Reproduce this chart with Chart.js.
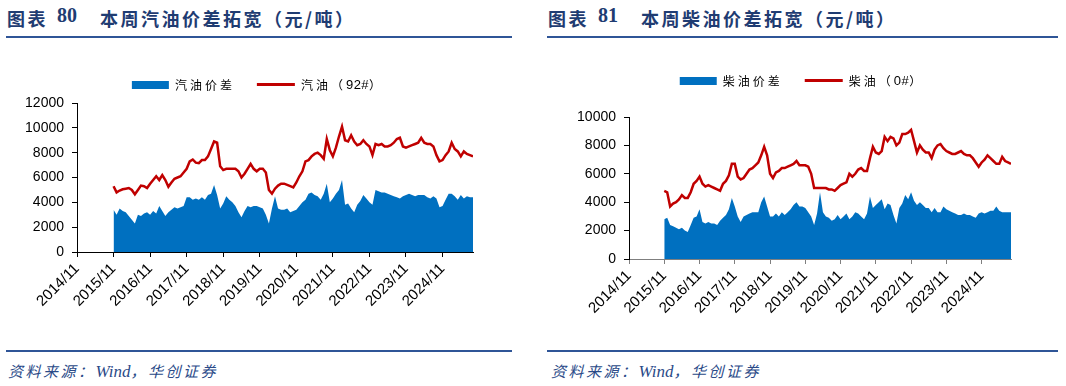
<!DOCTYPE html>
<html>
<head>
<meta charset="utf-8">
<script src="https://cdn.jsdelivr.net/npm/chart.js@4.4.1/dist/chart.umd.min.js"></script>
<style>
  body { margin: 0; width: 1066px; height: 386px; background: #fff; position: relative; overflow: hidden; font-family: "Noto Sans CJK SC", sans-serif; }
  .title { position: absolute; top: 5px; font-size: 18px; font-weight: bold; color: #1f3c72; white-space: nowrap; letter-spacing: 2.5px; }
  .title span { position: absolute; top: 0; }
  .title .num { font-family: "Liberation Serif", serif; font-size: 20px; letter-spacing: 0; }
  .rule { position: absolute; height: 2px; background: #2f5597; }
  .src { position: absolute; top: 360px; font-size: 15px; font-style: italic; color: #2a4a88; white-space: nowrap; letter-spacing: 2.5px; }
  .src .en { font-family: "Liberation Serif", serif; font-size: 17px; letter-spacing: 0; }
  canvas { position: absolute; top: 50px; }
  .legend { position: absolute; display: flex; align-items: center; font-size: 12px; letter-spacing: 3px; color: #000; white-space: nowrap; transform: translateX(-50%); }
  .legend .sw { display: inline-block; margin-right: 6px; }
  .legend .item { display: flex; align-items: center; margin-right: 22px; }
  .legend .num { letter-spacing: 0.5px; font-family: "Liberation Sans", sans-serif; font-size: 13px; }
</style>
</head>
<body>

<div class="title" style="left:7px"><span style="left:0">图表</span><span class="num" style="left:50px;top:-1px">80</span><span style="left:93px">本周汽油价差拓宽（元/吨）</span></div>
<div class="rule" style="left:6px;width:506px;top:36px"></div>
<div class="rule" style="left:6px;width:506px;top:350px"></div>
<div class="src" style="left:8px">资料来源：<span class="en">Wind</span>，华创证券</div>

<div class="title" style="left:548px"><span style="left:0">图表</span><span class="num" style="left:50px;top:-1px">81</span><span style="left:93px">本周柴油价差拓宽（元/吨）</span></div>
<div class="rule" style="left:547px;width:511px;top:36px"></div>
<div class="rule" style="left:547px;width:511px;top:350px"></div>
<div class="src" style="left:551px">资料来源：<span class="en">Wind</span>，华创证券</div>

<canvas id="gasChart" width="525" height="290" style="left:0"></canvas>
<canvas id="dieselChart" width="526" height="290" style="left:540px"></canvas>
<div class="legend" id="gasLegend" style="left:258px;top:76px"></div>
<div class="legend" id="dieselLegend" style="left:802px;top:72px"></div>

<script>
// x axis: months counted from 2014/11, one tick per year
const tickLabels = ['2014/11', '2015/11', '2016/11', '2017/11', '2018/11', '2019/11',
  '2020/11', '2021/11', '2022/11', '2023/11', '2024/11'];
const startMonth = 12; // first value is 2015/11

// monthly values, 2015/11 .. 2025/09
const gasSpread = [
  3400, 3000, 3500, 3300, 3200, 2900, 2600, 2300, 3000, 2900, 3100, 3200,
  3000, 3300, 3100, 3700, 3300, 2900, 3200, 3400, 3600, 3500, 3600, 3700,
  4400, 4400, 4200, 4300, 4200, 4400, 4200, 4600, 4700, 5400, 4600, 3500,
  3900, 4500, 4200, 4000, 3700, 3200, 2800, 3300, 3700, 3600, 3700, 3700,
  3600, 3500, 3000, 2300, 3500, 4500, 3500, 3400, 3400, 3500, 3200, 3300,
  3400, 3700, 4000, 4200, 4700, 4800, 4600, 4500, 4200, 4700, 5500, 4000,
  4300, 4700, 5000, 5800, 3800, 3900, 3500, 3200, 3800, 4100, 4600, 4300,
  4000, 3800, 5000, 4900, 4800, 4800, 4700, 4600, 4500, 4400, 4300, 4500,
  4600, 4700, 4600, 4500, 4600, 4600, 4600, 4400, 4300, 4500, 4300, 3600,
  3700, 4200, 4700, 4700, 4500, 4200, 4600, 4300, 4500, 4400, 4400
];
const gasPrice = [
  5300, 4800, 4950, 5050, 5100, 5150, 5000, 4650, 5000, 5350, 5300, 5150,
  5500, 5800, 6100, 5800, 6200, 5800, 5250, 5600, 5900, 6000, 6100, 6400,
  6700, 7300, 7450, 7200, 7150, 7400, 7400, 7700, 8300, 8900, 8800, 6900,
  6600, 6700, 6700, 6700, 6700, 6500, 6000, 6300, 6700, 7100, 6700, 6500,
  6700, 6700, 6400, 5000, 4700, 5100, 5350, 5500, 5500, 5400, 5300, 5200,
  5600, 6100, 6500, 7300, 7400, 7700, 7900, 8000, 7800, 7500, 9100, 8200,
  7700, 8400, 9300, 10100, 9000, 8900, 9400, 8900, 8600, 8700, 9000, 8700,
  8500, 7800, 8700, 8600, 8700, 8500, 8500, 8600, 8800, 9100, 9200, 8500,
  8400, 8500, 8600, 8700, 8800, 9200, 8800, 8700, 8700, 8500, 7800, 7300,
  7400, 7800, 8100, 8800, 8300, 8100, 7700, 8100, 7900, 7800, 7700
];
const dieselSpread = [
  2800, 2900, 2400, 2300, 2200, 2100, 2200, 2000, 1900, 2400, 2900, 3000,
  3500, 2600, 2500, 2600, 2500, 2500, 2400, 2700, 2900, 3100, 3500, 4300,
  3700, 3000, 2600, 3000, 3100, 3200, 3300, 3300, 3300, 4000, 4400, 3700,
  3000, 3000, 3200, 3000, 3300, 3100, 3300, 3500, 3800, 4000, 3700, 3700,
  3600, 3300, 3000, 2400, 3200, 4700, 3300, 3000, 2900, 2700, 2800, 3100,
  2800, 3000, 3200, 2800, 3000, 3300, 3200, 3000, 2800, 3200, 4400, 3600,
  3800, 4000, 4200, 3500, 3900, 3800, 3100, 2500, 3600, 3900, 4500, 4200,
  4700, 4100, 3800, 4000, 3800, 3600, 3600, 3300, 3600, 3300, 3300, 3700,
  3500, 3400, 3300, 3200, 3100, 3100, 3200, 3100, 3100, 3000, 2900, 3200,
  3300, 3200, 3300, 3400, 3400, 3700, 3400, 3300, 3300, 3300, 3300
];
const dieselPrice = [
  4800, 4700, 3700, 3900, 4000, 4200, 4500, 4300, 4300, 4700, 5300, 5500,
  5800, 5300, 5100, 5200, 5100, 5000, 4900, 4800, 5300, 5500, 5900, 6700,
  6700, 5800, 5600, 5700, 6000, 6300, 6400, 6600, 6800, 7300, 7900, 7300,
  6000, 5700, 6100, 6200, 6400, 6400, 6500, 6600, 6700, 6900, 6600, 6600,
  6600, 6500, 6000, 5000, 5000, 5000, 5000, 5000, 4900, 4900, 4800, 5000,
  5200, 5300, 5400, 6000, 5800, 6000, 6300, 6400, 6200, 6200, 7100, 7900,
  7500, 7400, 7600, 8600, 8300, 8600, 8500, 8000, 8200, 8800, 8800, 8900,
  9100, 8300, 7500, 8000, 7700, 7500, 7500, 7100, 7700, 8000, 8100, 7800,
  7600, 7500, 7400, 7400, 7500, 7600, 7400, 7300, 7300, 7100, 6800, 6500,
  6800, 7000, 7300, 7100, 6900, 6700, 6700, 7200, 6900, 6800, 6700
];

const BLUE = '#0070c0';
const RED = '#c00000';
const yFont = { family: '"Liberation Sans", Arial, sans-serif', size: 14 };
const xFont = { family: '"Liberation Sans", Arial, sans-serif', size: 15 };

function toPoints(values) {
  return values.map((v, i) => ({ x: startMonth + i, y: v }));
}

function makeChart(id, legendId, spreadLabel, spread, priceLabel, price, yMax, yWidth, xLineColor, pad) {
  const config = {
    type: 'line',
    data: {
      datasets: [
        {
          label: spreadLabel,
          data: toPoints(spread),
          borderWidth: 0,
          backgroundColor: BLUE,
          fill: 'origin',
          pointRadius: 0,
          tension: 0,
          order: 2,
        },
        {
          label: priceLabel,
          data: toPoints(price),
          borderColor: RED,
          borderWidth: 2.5,
          fill: false,
          pointRadius: 0,
          tension: 0,
          order: 1,
        },
      ],
    },
    options: {
      responsive: false,
      animation: false,
      layout: { padding: pad },
      plugins: {
        legend: { display: false },
        tooltip: { enabled: false },
      },
      scales: {
        x: {
          type: 'linear',
          min: 0,
          max: 130,
          afterBuildTicks: (s) => { s.ticks = tickLabels.map((_, i) => ({ value: i * 12 })); },
          afterFit: (s) => { s.height = 70; },
          ticks: {
            autoSkip: false,
            maxRotation: 45,
            minRotation: 45,
            color: '#000',
            font: xFont,
            padding: 3,
            callback: (v, i) => tickLabels[i],
          },
          grid: { drawOnChartArea: false, tickLength: 5, color: xLineColor },
          border: { color: xLineColor },
        },
        y: {
          min: 0,
          max: yMax,
          afterFit: (s) => { s.width = yWidth; },
          ticks: { stepSize: 2000, color: '#000', font: yFont, padding: 8, callback: (v) => String(v) },
          grid: { drawOnChartArea: false, tickLength: 5, color: '#000' },
          border: { color: '#000' },
        },
      },
    },
  };
  const chart = new Chart(document.getElementById(id), config);

  // html legend, like the report's own
  const legendEl = document.getElementById(legendId);
  chart.data.datasets.forEach((ds) => {
    const item = document.createElement('span');
    item.className = 'item';
    const sw = document.createElement('span');
    sw.className = 'sw';
    if (ds.fill) {
      sw.style.cssText = 'width:37px;height:8px;background:' + ds.backgroundColor;
    } else {
      sw.style.cssText = 'width:38px;height:3px;background:' + ds.borderColor;
    }
    item.appendChild(sw);
    // digits inside the label are set tighter than the chinese
    const m = ds.label.match(/^(.*（)(.*)(）)$/);
    if (m) {
      item.appendChild(document.createTextNode(m[1]));
      const n = document.createElement('span');
      n.className = 'num';
      n.textContent = m[2];
      item.appendChild(n);
      item.appendChild(document.createTextNode(m[3]));
    } else {
      item.appendChild(document.createTextNode(ds.label));
    }
    legendEl.appendChild(item);
  });
  legendEl.lastChild.style.marginRight = '0';
  return chart;
}

makeChart('gasChart', 'gasLegend', '汽油价差', gasSpread, '汽油（92#）', gasPrice, 12000, 77, '#000',
  { top: 53, right: 52, bottom: 18, left: 0 });
makeChart('dieselChart', 'dieselLegend', '柴油价差', dieselSpread, '柴油（0#）', dieselPrice, 10000, 89, '#7f7f7f',
  { top: 67, right: 55, bottom: 11, left: 0 });
</script>
</body>
</html>
